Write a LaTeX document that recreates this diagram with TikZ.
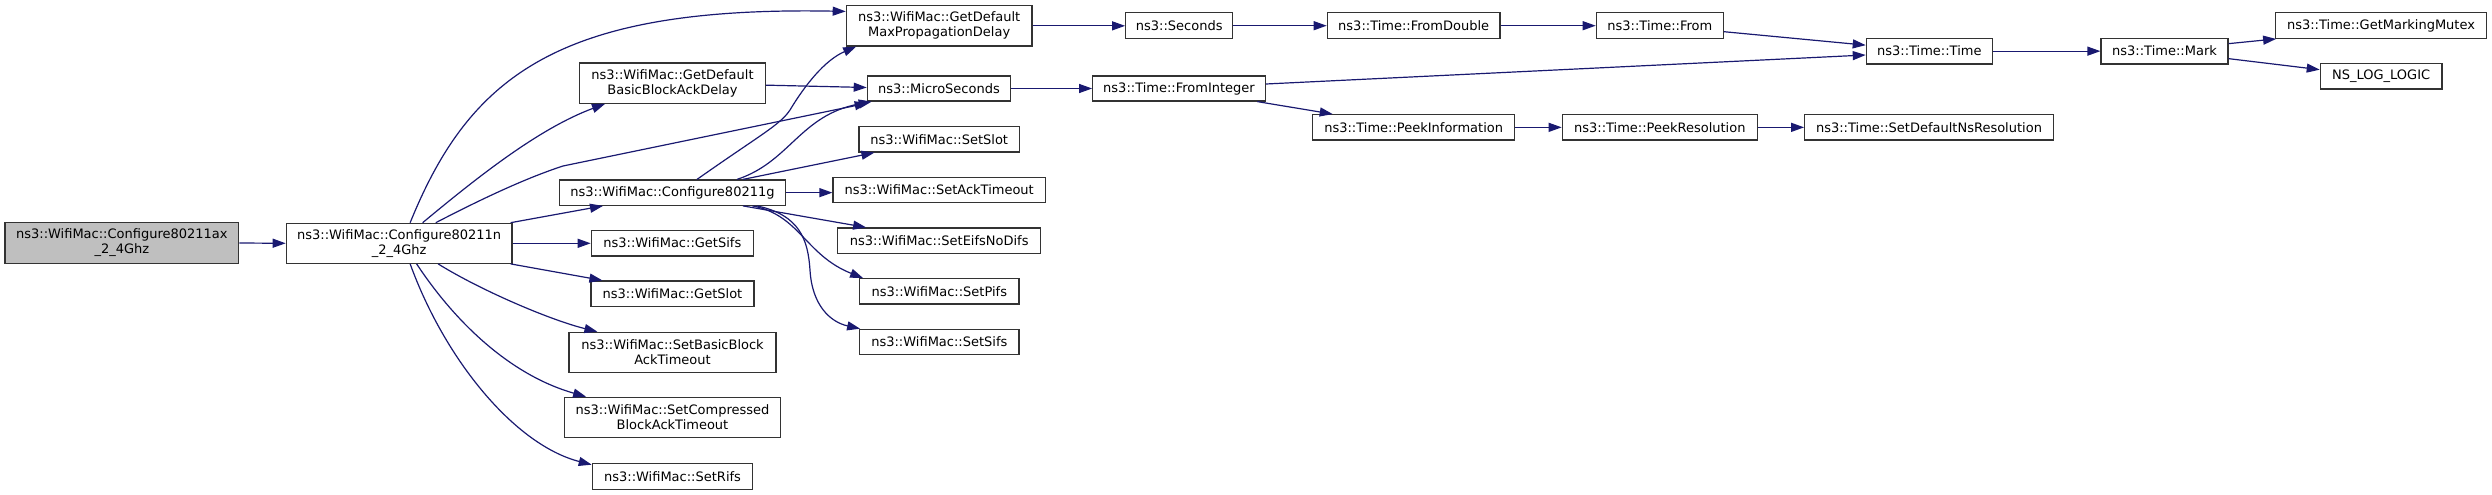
\documentclass[tikz,border=0pt]{standalone}
\usepackage{fontspec}
\setmainfont{DejaVu Sans}
\usetikzlibrary{arrows.meta}
\definecolor{edgecol}{HTML}{191970}
\definecolor{nodeborder}{HTML}{333333}
\definecolor{rootfill}{HTML}{BFBFBF}
\tikzset{
  box/.style={draw=nodeborder, line width=1.2pt, fill=white, inner sep=0pt, align=center,
    font=\fontsize{13}{15}\selectfont, text=black},
  rootbox/.style={box, fill=rootfill},
  edge/.style={draw=edgecol, line width=1.2pt, -{Triangle[length=13pt,width=9pt]}}
}
\newcommand{\bx}[6][box]{\node[#1, minimum width=#4pt, minimum height=#5pt] (#2) at #3 {#6};}
\begin{document}
\begin{tikzpicture}[x=1pt,y=-1pt]
\useasboundingbox (0,0) rectangle (2492,495);
% nodes
\bx[rootbox]{A}{(121.85,243)}{233.7}{40.6}{ns3::WifiMac::Configure80211ax\\\_2\_4Ghz}
\bx{B}{(399.15,243.3)}{225.7}{40}{ns3::WifiMac::Configure80211n\\\_2\_4Ghz}
\bx{gdmpd}{(939.15,25.85)}{185.7}{40.3}{ns3::WifiMac::GetDefault\\MaxPropagationDelay}
\bx{gdbbad}{(672.5,83.15)}{185.6}{40.3}{ns3::WifiMac::GetDefault\\BasicBlockAckDelay}
\bx{cg}{(672.5,192.65)}{225.6}{25.3}{ns3::WifiMac::Configure80211g}
\bx{getsifs}{(672.3,243.15)}{162}{25.7}{ns3::WifiMac::GetSifs}
\bx{getslot}{(672.5,293.85)}{163}{25.7}{ns3::WifiMac::GetSlot}
\bx{sbbat}{(672.5,352.5)}{207}{40.4}{ns3::WifiMac::SetBasicBlock\\AckTimeout}
\bx{scbat}{(672.5,417.5)}{216.4}{40.4}{ns3::WifiMac::SetCompressed\\BlockAckTimeout}
\bx{setrifs}{(672.5,476.3)}{160.4}{26}{ns3::WifiMac::SetRifs}
\bx{micro}{(939,88.5)}{143.4}{25}{ns3::MicroSeconds}
\bx{setslot}{(939.15,139.35)}{160.3}{25.3}{ns3::WifiMac::SetSlot}
\bx{setack}{(939.15,190)}{212.3}{25.4}{ns3::WifiMac::SetAckTimeout}
\bx{seteifs}{(939.2,240.65)}{203}{25.3}{ns3::WifiMac::SetEifsNoDifs}
\bx{setpifs}{(939.35,291.35)}{159.3}{25.3}{ns3::WifiMac::SetPifs}
\bx{setsifs}{(939.35,342)}{159.3}{25.4}{ns3::WifiMac::SetSifs}
\bx{seconds}{(1179.2,25.7)}{107}{26}{ns3::Seconds}
\bx{fromint}{(1179,88.5)}{172.6}{25}{ns3::Time::FromInteger}
\bx{fromdbl}{(1413.65,25.7)}{172.7}{26}{ns3::Time::FromDouble}
\bx{peekinfo}{(1413.7,127.35)}{202}{25.3}{ns3::Time::PeekInformation}
\bx{tfrom}{(1659.8,25.7)}{127}{26}{ns3::Time::From}
\bx{peekres}{(1659.8,127.35)}{195}{25.3}{ns3::Time::PeekResolution}
\bx{ttime}{(1929.3,51.15)}{126}{25.7}{ns3::Time::Time}
\bx{setdef}{(1929,127.35)}{248.6}{25.3}{ns3::Time::SetDefaultNsResolution}
\bx{mark}{(2164.5,51.15)}{127}{25.7}{ns3::Time::Mark}
\bx{getmm}{(2381,25.5)}{210.6}{25.6}{ns3::Time::GetMarkingMutex}
\bx{nslog}{(2381.15,76.15)}{121.7}{25.7}{NS\_LOG\_LOGIC}
% edges
\draw[edge] (A.east) -- (B.west);
\draw[edge] ([xshift=11pt]B.north) .. controls (470,75) and (560,6) .. ([yshift=-6.3pt]gdmpd.north west);
\draw[edge] ([xshift=23.5pt]B.north) .. controls (480,175) and (540,128) .. ([xshift=-67.5pt]gdbbad.south);
\draw[edge] ([xshift=36.6pt]B.north) .. controls (470,205) and (520,180) .. (563,166) -- ([xshift=1pt,yshift=-1.5pt]micro.south west);
\draw[edge] ([xshift=-2pt]B.north east) -- ([xshift=-69.5pt]cg.south);
\draw[edge] (B.east) -- (B.east -| getsifs.west);
\draw[edge] ([xshift=-2pt]B.south east) -- ([xshift=12pt]getslot.north west);
\draw[edge] ([xshift=39pt]B.south) .. controls (480,290) and (550,320) .. ([xshift=29pt]sbbat.north west);
\draw[edge] ([xshift=17.5pt]B.south) .. controls (455,322) and (510,375) .. ([xshift=22.4pt]scbat.north west);
\draw[edge] ([xshift=11pt]B.south) .. controls (445,360) and (515,445) .. ([yshift=-2pt]setrifs.north west);
\draw[edge] ([yshift=-2pt]gdbbad.east) -- ([yshift=1pt]micro.west);
\draw[edge] ([xshift=24.5pt]cg.north) .. controls (760,135) and (780,125) .. (790,110) .. controls (805,85) and (825,60) .. ([xshift=10.5pt]gdmpd.south west);
\draw[edge] ([xshift=64.5pt]cg.north) .. controls (790,162) and (800,115) .. ([xshift=5pt]micro.south west);
\draw[edge] ([xshift=70.5pt]cg.north) -- ([xshift=16pt]setslot.south west);
\draw[edge] (cg.east) -- (cg.east -| setack.west);
\draw[edge] ([xshift=70.5pt]cg.south) -- ([xshift=29pt]seteifs.north west);
\draw[edge] ([xshift=80pt]cg.south) .. controls (800,215) and (805,255) .. ([xshift=4pt]setpifs.north west);
\draw[edge] ([xshift=84.5pt]cg.south) .. controls (800,215) and (808,240) .. (810,270) .. controls (812,305) and (830,322) .. ([xshift=1pt]setsifs.north west);
\draw[edge] (gdmpd.east) -- (gdmpd.east -| seconds.west);
\draw[edge] (seconds.east) -- (fromdbl.west);
\draw[edge] (fromdbl.east) -- (tfrom.west);
\draw[edge] ([yshift=-6pt]tfrom.east) -- ([yshift=6pt]ttime.west);
\draw[edge] (micro.east) -- (fromint.west);
\draw[edge] ([yshift=4.5pt]fromint.east) -- ([yshift=-3.85pt]ttime.west);
\draw[edge] ([xshift=-8.6pt]fromint.south east) -- ([xshift=20.6pt]peekinfo.north west);
\draw[edge] (peekinfo.east) -- (peekres.west);
\draw[edge] (peekres.east) -- (setdef.west);
\draw[edge] (ttime.east) -- (mark.west);
\draw[edge] ([yshift=7.5pt]mark.east) -- ([xshift=1pt]getmm.south west);
\draw[edge] ([yshift=-7.5pt]mark.east) -- ([yshift=6.5pt]nslog.west);
\end{tikzpicture}
\end{document}
